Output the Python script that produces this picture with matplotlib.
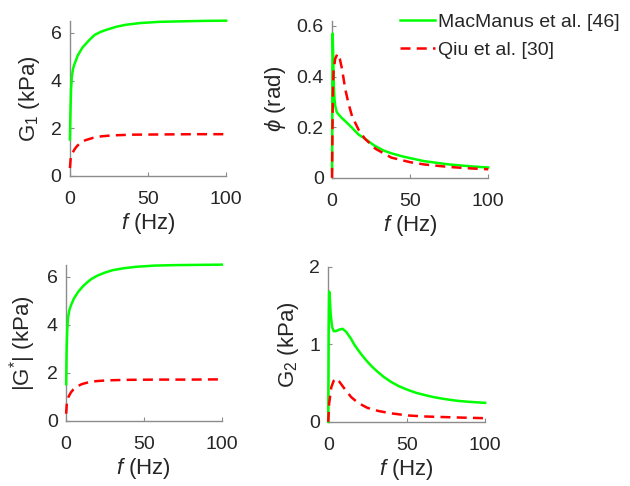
import matplotlib
matplotlib.use("Agg")
import matplotlib.pyplot as plt

plt.rcParams['font.family'] = ['Liberation Sans', 'DejaVu Sans']
plt.rcParams['mathtext.fontset'] = 'custom'
plt.rcParams['mathtext.rm'] = 'Liberation Sans'
plt.rcParams['mathtext.it'] = 'Liberation Sans:italic'
plt.rcParams['mathtext.bf'] = 'Liberation Sans:bold'

series_names = ["MacManus et al. [46]", "Qiu et al. [30]"]

# G1 (kPa)
f_g1_mac = [0, 0.3, 0.7, 1.2, 2, 3, 5, 8, 11, 13.5, 16, 20, 24, 30, 36, 45, 57, 70, 85, 100]
g1_mac = [1.53, 2.6, 3.6, 4.15, 4.5, 4.7, 5.05, 5.38, 5.6, 5.77, 5.92, 6.05, 6.14, 6.26, 6.34, 6.41, 6.46, 6.48, 6.5, 6.51]
f_g1_qiu = [0, 0.5, 1.5, 3, 4.5, 7, 10, 15, 20, 27, 40, 60, 80, 100]
g1_qiu = [0.33, 0.75, 0.95, 1.12, 1.25, 1.4, 1.5, 1.6, 1.66, 1.7, 1.73, 1.74, 1.75, 1.75]

# phase angle phi (rad)
f_phi_mac = [0, 0.2, 0.4, 0.7, 1.1, 1.6, 2.1, 3, 4.3, 6, 8.5, 12.8, 17, 21, 27, 33, 38, 45, 50, 59, 75, 90, 100]
phi_mac = [0.03, 0.35, 0.57, 0.5, 0.375, 0.31, 0.283, 0.26, 0.25, 0.238, 0.224, 0.198, 0.171, 0.155, 0.128, 0.108, 0.097, 0.085, 0.078, 0.066, 0.053, 0.045, 0.041]
f_phi_qiu = [0, 0.3, 0.6, 1, 2, 3.5, 5, 6.4, 8.5, 10.5, 12.8, 17, 21, 27.8, 38, 50, 59, 75, 90, 100]
phi_qiu = [0.0, 0.2, 0.35, 0.42, 0.47, 0.49, 0.47, 0.43, 0.35, 0.295, 0.244, 0.19, 0.155, 0.115, 0.08, 0.062, 0.053, 0.043, 0.037, 0.034]

# |G*| (kPa)
f_gs_mac = [0, 0.3, 0.7, 1.2, 2, 3, 5, 8, 11, 13.5, 16, 20, 25, 30, 36, 45, 57, 70, 85, 100]
gs_mac = [1.53, 2.9, 3.8, 4.3, 4.6, 4.8, 5.1, 5.4, 5.62, 5.77, 5.9, 6.05, 6.18, 6.28, 6.35, 6.42, 6.47, 6.49, 6.5, 6.51]
f_gs_qiu = [0, 0.5, 1.5, 3, 4.5, 7, 10, 15, 20, 27, 40, 60, 80, 100]
gs_qiu = [0.3, 0.8, 1.0, 1.18, 1.3, 1.43, 1.53, 1.62, 1.66, 1.69, 1.71, 1.72, 1.72, 1.73]

# G2 (kPa)
f_g2_mac = [0, 0.3, 0.6, 1, 1.6, 2.5, 3.5, 4.9, 7, 9.2, 11.5, 14.6, 16.5, 18.9, 21.5, 25, 28, 31.8, 35.5, 40, 45, 51, 56, 61.8, 67, 72.5, 78, 83, 90, 100]
g2_mac = [0.0, 1.2, 1.68, 1.6, 1.38, 1.22, 1.17, 1.17, 1.19, 1.2, 1.16, 1.07, 1.0, 0.93, 0.86, 0.775, 0.71, 0.64, 0.578, 0.516, 0.46, 0.41, 0.375, 0.344, 0.32, 0.3, 0.283, 0.27, 0.258, 0.245]
f_g2_qiu = [0, 0.6, 2, 3.5, 5, 7, 10.3, 14.6, 19, 25, 32, 40, 51, 62, 83, 100]
g2_qiu = [0, 0.24, 0.45, 0.53, 0.56, 0.52, 0.43, 0.32, 0.245, 0.18, 0.14, 0.11, 0.082, 0.069, 0.056, 0.047]

xticks = [0, 50, 100]

GREEN = '#00ff00'
RED = '#ff0000'
SPINE = '#8c8c8c'
TXT = '#262626'
FS_TICK = 14
FS_LAB = 16
FS_LEG = 14

fig = plt.figure(figsize=(6.3, 4.86), dpi=100)

panels = [
    ([0.111, 0.638, 0.248, 0.319], f_g1_mac, g1_mac, f_g1_qiu, g1_qiu, (0, 6.5), [0, 2, 4, 6], r'$\mathrm{G}_{\mathit{1}}$ (kPa)', ['0', '2', '4', '6']),
    ([0.527, 0.634, 0.248, 0.323], f_phi_mac, phi_mac, f_phi_qiu, phi_qiu, (0, 0.62), [0, 0.2, 0.4, 0.6], r'$\phi$ (rad)', ['0', '0.2', '0.4', '0.6']),
    ([0.105, 0.134, 0.247, 0.321], f_gs_mac, gs_mac, f_gs_qiu, gs_qiu, (0, 6.5), [0, 2, 4, 6], r'$|\mathrm{G}^{*}|$ (kPa)', ['0', '2', '4', '6']),
    ([0.521, 0.132, 0.249, 0.319], f_g2_mac, g2_mac, f_g2_qiu, g2_qiu, (0, 2), [0, 1, 2], r'$\mathrm{G}_{2}$ (kPa)', ['0', '1', '2']),
]

handles = None
for rect, fm, ym, fq, yq, ylim, yt, ylab, ytl in panels:
    ax = fig.add_axes(rect)
    l1, = ax.plot(fm, ym, color=GREEN, lw=1.8, label=series_names[0], zorder=3, clip_on=False)
    l2, = ax.plot(fq, yq, color=RED, lw=1.8, dashes=(4, 2.5), label=series_names[1], zorder=3, clip_on=False)
    handles = [l1, l2]
    ax.set_xlim(0, 100)
    ax.set_ylim(*ylim)
    ax.set_xticks(xticks)
    ax.set_yticks(yt)
    ax.set_yticklabels(ytl)
    for s in ['top', 'right']:
        ax.spines[s].set_visible(False)
    for s in ['left', 'bottom']:
        ax.spines[s].set_color(SPINE)
        ax.spines[s].set_linewidth(1.0)
    ax.tick_params(direction='in', length=3, width=0.8, color=SPINE,
                   labelsize=FS_TICK, labelcolor=TXT)
    ax.tick_params(axis='x', pad=11)
    ax.tick_params(axis='y', pad=6)
    ax.set_xlabel(r'$f$ (Hz)', fontsize=FS_LAB, color=TXT, labelpad=2)
    ax.set_ylabel(ylab, fontsize=FS_LAB, color=TXT, labelpad=6)

fig.legend(handles, series_names, loc='upper left', bbox_to_anchor=(0.635, 0.973),
           frameon=False, fontsize=FS_LEG, handlelength=1.8, handletextpad=0.15,
           borderpad=0, borderaxespad=0, labelspacing=0.55, labelcolor=TXT)

fig.savefig('out.png', dpi=100)
